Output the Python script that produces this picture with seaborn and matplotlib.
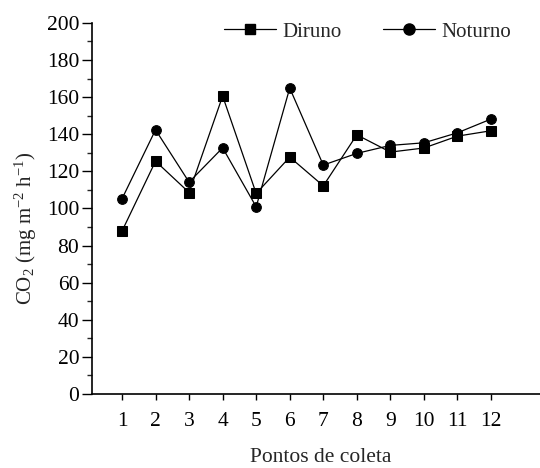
import numpy as np
import pandas as pd
import matplotlib
matplotlib.use("Agg")
import matplotlib.pyplot as plt
from matplotlib.ticker import MultipleLocator
from matplotlib.lines import Line2D
import seaborn as sns

# data
pontos = list(range(1, 13))
diruno = [87.8, 125.5, 108.6, 160.6, 108.1, 127.7, 112.2, 139.7, 130.4, 132.6, 139.0, 141.9]
noturno = [105.2, 142.4, 114.2, 132.7, 100.9, 164.9, 123.4, 129.7, 134.0, 135.4, 140.8, 148.2]

df = pd.DataFrame({
    "ponto": pontos * 2,
    "co2": diruno + noturno,
    "periodo": ["Diruno"] * 12 + ["Noturno"] * 12,
})

sns.set_style("ticks")
plt.rcParams["font.family"] = ["Liberation Serif", "DejaVu Serif"]
plt.rcParams["mathtext.fontset"] = "custom"
plt.rcParams["mathtext.rm"] = "Liberation Serif"
plt.rcParams["mathtext.default"] = "regular"

fig = plt.figure(figsize=(5.4, 4.68), dpi=100)
ax = fig.add_axes([0.170, 0.158, 0.830, 0.793])

sns.lineplot(data=df, x="ponto", y="co2", hue="periodo", style="periodo",
             markers={"Diruno": "s", "Noturno": "o"}, dashes=False,
             palette={"Diruno": "black", "Noturno": "black"},
             markersize=7, linewidth=0.9, markeredgecolor="black",
             ax=ax, legend=False)

handles = [Line2D([], [], color="black", lw=0.9, marker="s", markersize=7),
           Line2D([], [], color="black", lw=0.9, marker="o", markersize=8)]
ax.legend(handles, ["Diruno", "Noturno"], ncol=2, frameon=False,
          loc="center", bbox_to_anchor=(0.615, 0.976), fontsize=15,
          handlelength=2.5, handletextpad=0.3, columnspacing=2.0,
          borderpad=0, borderaxespad=0)

ax.set_xlim(0.1, 13.46)
ax.set_ylim(0, 200)
ax.set_xticks(pontos)
ax.yaxis.set_major_locator(MultipleLocator(20))
ax.yaxis.set_minor_locator(MultipleLocator(10))
ax.tick_params(axis="y", which="major", direction="out", length=7, width=1,
               labelsize=15.5, colors="black", pad=2)
ax.tick_params(axis="y", which="minor", direction="out", length=3.5, width=1)
ax.tick_params(axis="x", which="major", direction="out", length=4, width=1,
               labelsize=15.5, colors="black", pad=9)

sns.despine(ax=ax)
for s in ["left", "bottom"]:
    ax.spines[s].set_linewidth(1.2)
    ax.spines[s].set_color("black")

ax.set_xlabel("Pontos de coleta", fontsize=15.5, va="center")
ax.xaxis.set_label_coords(0.51, -0.172)
ax.set_ylabel("CO$_2$ (mg m$^{-2}$ h$^{-1}$)", fontsize=15)
ax.yaxis.set_label_coords(-0.118, 0.447)

fig.savefig("out.png", dpi=100)
